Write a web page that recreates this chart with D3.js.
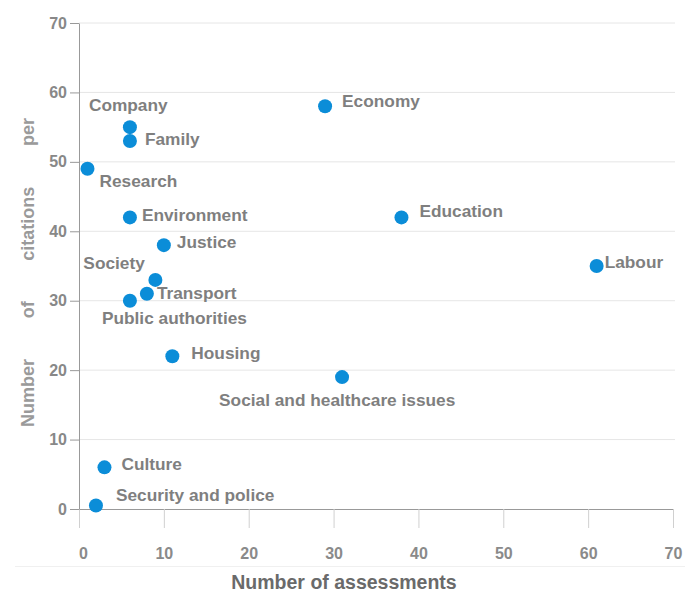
<!DOCTYPE html>
<html>
<head>
<meta charset="utf-8">
<script src="https://cdn.jsdelivr.net/npm/d3@7"></script>
<style>
body{margin:0;background:#fff}
svg text{font-family:Arial,"Liberation Sans",sans-serif;font-weight:bold}
</style>
</head>
<body>
<svg id="chart" width="685" height="589"></svg>
<script>
var topics = ["Company","Family","Economy","Research","Environment","Justice","Society","Transport",
  "Public authorities","Housing","Social and healthcare issues","Education","Labour","Culture","Security and police"]
var assessments = [6,6,29,1,6,10,9,8,6,11,31,38,61,3,2]
var citations = [55,53,58,49,42,38,33,31,30,22,19,42,35,6,0.5]
var xTicks = [0,10,20,30,40,50,60,70]
var yTicks = [0,10,20,30,40,50,60,70]
var xTitle = "Number of assessments"
var yTitleWords = ["Number","of","citations","per"]

// where each label sits relative to its dot (px)
var labelDx = [-41,15,17,12,12,13,-72,10,-28,19,-123,18,8,17,20]
var labelDy = [-22,-2,-5,12,-2,-3,-17,-1,17,-3,23,-6,-4,-3,-11]

var svg = d3.select('#chart')

var x = d3.scaleLinear().domain([0,70]).range([79,673])
var y = d3.scaleLinear().domain([0,70]).range([509,23])

// grid
svg.append('g').selectAll('line')
  .data(yTicks.filter(function(d){ return d > 0 }))
  .enter().append('line')
  .attr('x1', x(0)).attr('x2', 675)
  .attr('y1', function(d){ return y(d) }).attr('y2', function(d){ return y(d) })
  .attr('stroke', '#e6e6e6')

// faint line under the x tick labels
svg.append('line')
  .attr('x1', 15).attr('x2', 685).attr('y1', 566.5).attr('y2', 566.5)
  .attr('stroke', '#f0f0f0')

var xAxis = svg.append('g')
  .attr('transform', 'translate(0,' + y(0) + ')')
  .call(d3.axisBottom(x).tickValues(xTicks).tickSize(19).tickSizeOuter(0).tickPadding(20))
xAxis.select('.domain').attr('stroke', '#999')
xAxis.selectAll('.tick line').attr('stroke', '#d0d0d0')
xAxis.selectAll('text').attr('fill', '#8a8a8a').style('font-size', '16px')
  .attr('dx', function(d){ return d === 0 ? 4 : 0 })

var yAxis = svg.append('g')
  .attr('transform', 'translate(' + x(0) + ',0)')
  .call(d3.axisLeft(y).tickValues(yTicks).tickSize(9).tickSizeOuter(0).tickPadding(3))
yAxis.select('.domain').attr('stroke', '#999')
yAxis.selectAll('.tick line').attr('stroke', '#999')
yAxis.selectAll('text').attr('fill', '#888').style('font-size', '16px')

// x title
svg.append('text')
  .attr('x', 344).attr('y', 582).attr('dy', '0.35em')
  .attr('text-anchor', 'middle')
  .attr('fill', '#6a6a6a')
  .style('font-size', '19.5px')
  .text(xTitle)

// y title, words spread over the axis height
var titleBottom = 427, titleTop = 118
var words = svg.append('g').selectAll('text')
  .data(yTitleWords)
  .enter().append('text')
  .attr('fill', '#9a9a9a')
  .style('font-size', '18px')
  .attr('dy', '0.35em')
  .text(function(d){ return d })
var widths = []
words.each(function(){ widths.push(this.getComputedTextLength()) })
var gap = (titleBottom - titleTop - d3.sum(widths)) / (widths.length - 1)
var pos = titleBottom
words.attr('transform', function(d, i){
  var t = 'translate(28,' + pos + ') rotate(-90)'
  pos -= widths[i] + gap
  return t
})

// dots
svg.append('g').selectAll('circle')
  .data(topics)
  .enter().append('circle')
  .attr('cx', function(d, i){ return x(assessments[i]) })
  .attr('cy', function(d, i){ return y(citations[i]) })
  .attr('r', 7)
  .attr('fill', '#0b8dd8')

// labels
svg.append('g').selectAll('text')
  .data(topics)
  .enter().append('text')
  .attr('x', function(d, i){ return x(assessments[i]) + labelDx[i] })
  .attr('y', function(d, i){ return y(citations[i]) + labelDy[i] })
  .attr('dy', '0.35em')
  .attr('fill', '#7f7f7f')
  .style('font-size', '17.3px')
  .text(function(d){ return d })
</script>
</body>
</html>
